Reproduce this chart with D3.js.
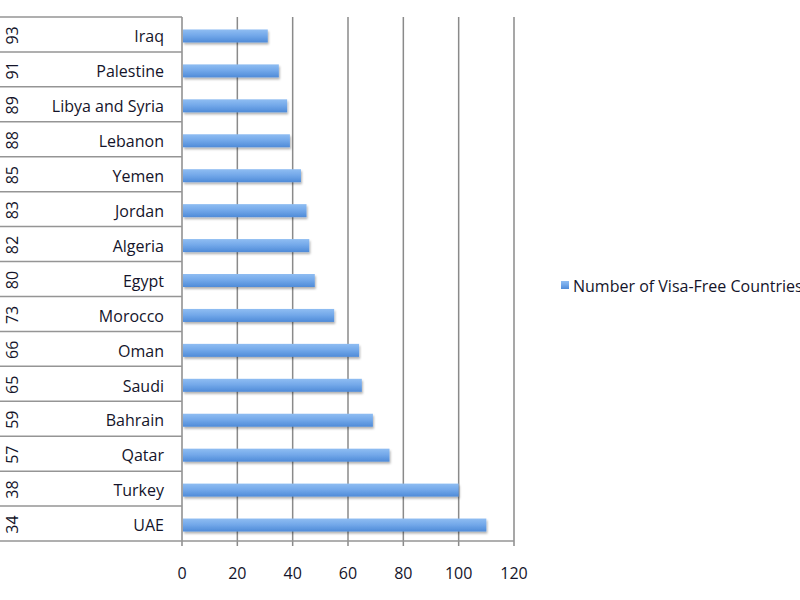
<!DOCTYPE html>
<html>
<head>
<meta charset="utf-8">
<script src="https://cdn.jsdelivr.net/npm/d3@7"></script>
<style>
  html, body { margin: 0; padding: 0; background: #fff; overflow: hidden; }
  svg { display: block; font-family: "Open Sans", "Liberation Sans", sans-serif; }
</style>
</head>
<body>
<svg id="chart" width="800" height="600"></svg>
<script>
// ---- data (top to bottom as drawn) ----
const countries = ["Iraq", "Palestine", "Libya and Syria", "Lebanon", "Yemen", "Jordan", "Algeria", "Egypt", "Morocco", "Oman", "Saudi", "Bahrain", "Qatar", "Turkey", "UAE"];
const ranks = ["93", "91", "89", "88", "85", "83", "82", "80", "73", "66", "65", "59", "57", "38", "34"];
const visaFree = [31, 35, 38, 39, 43, 45, 46, 48, 55, 64, 65, 69, 75, 100, 110];
const xTicks = [0, 20, 40, 60, 80, 100, 120];
const seriesName = "Number of Visa-Free Countries";

const svg = d3.select("#chart");
const plotL = 182, plotR = 514, plotT = 17, plotB = 541;
const textCol = "#14142a";

const x = d3.scaleLinear().domain([0, 120]).range([plotL, plotR]);
const y = d3.scaleBand().domain(countries).range([plotT, plotB]).padding(0);

const defs = svg.append("defs");
const grad = defs.append("linearGradient").attr("id", "barGrad")
  .attr("x1", 0).attr("y1", 0).attr("x2", 0).attr("y2", 1);
grad.append("stop").attr("offset", "0%").attr("stop-color", "#8fbdf2");
grad.append("stop").attr("offset", "45%").attr("stop-color", "#74a9ea");
grad.append("stop").attr("offset", "100%").attr("stop-color", "#4f8bd8");
const filt = defs.append("filter").attr("id", "shadow").attr("x", "-5%").attr("y", "-30%").attr("width", "115%").attr("height", "190%");
filt.append("feDropShadow").attr("dx", 1).attr("dy", 2).attr("stdDeviation", 1.2)
  .attr("flood-color", "#000").attr("flood-opacity", 0.3);

// gridlines + x ticks
svg.append("g").selectAll("line").data(xTicks).join("line")
  .attr("x1", d => x(d)).attr("x2", d => x(d))
  .attr("y1", plotT).attr("y2", plotB + 5)
  .attr("stroke", "#8a8a8a")
  .attr("stroke-width", 1.5);

// table row lines on the left
const boundaries = countries.map(c => y(c)).concat([plotB]);
svg.append("g").selectAll("line").data(boundaries).join("line")
  .attr("x1", 0).attr("x2", plotL)
  .attr("y1", d => d).attr("y2", d => d)
  .attr("stroke", "#959595").attr("stroke-width", 1.5);

// x axis baseline
svg.append("line").attr("x1", plotL).attr("x2", plotR).attr("y1", plotB).attr("y2", plotB)
  .attr("stroke", "#959595").attr("stroke-width", 1.5);

// bars
const barH = 13;
svg.append("g").selectAll("rect").data(countries).join("rect")
  .attr("x", x(0) + 1)
  .attr("y", d => y(d) + y.bandwidth() / 2 - barH / 2 + 1.5)
  .attr("width", (d, i) => x(visaFree[i]) - x(0) - 1)
  .attr("height", barH)
  .attr("fill", "url(#barGrad)")
  .attr("filter", "url(#shadow)");

// country labels
svg.append("g").selectAll("text").data(countries).join("text")
  .attr("x", 164)
  .attr("y", d => y(d) + y.bandwidth() / 2 + 2)
  .attr("dy", "0.36em")
  .attr("text-anchor", "end")
  .attr("font-size", 16)
  .attr("fill", textCol)
  .text(d => d);

// rank labels (rotated)
svg.append("g").selectAll("text").data(countries).join("text")
  .attr("transform", d => `translate(12,${y(d) + y.bandwidth() / 2 + 1}) rotate(-90)`)
  .attr("dy", "0.36em")
  .attr("text-anchor", "middle")
  .attr("font-size", 16)
  .attr("fill", textCol)
  .text((d, i) => ranks[i]);

// x tick labels
svg.append("g").selectAll("text").data(xTicks).join("text")
  .attr("x", d => x(d))
  .attr("y", 573)
  .attr("dy", "0.36em")
  .attr("text-anchor", "middle")
  .attr("font-size", 16)
  .attr("fill", textCol)
  .text(d => d);

// legend
svg.append("rect").attr("x", 561).attr("y", 281).attr("width", 8).attr("height", 8)
  .attr("fill", "url(#barGrad)");
svg.append("text").attr("x", 573).attr("y", 286).attr("dy", "0.36em")
  .attr("font-size", 16).attr("fill", textCol)
  .text(seriesName);
</script>
</body>
</html>
